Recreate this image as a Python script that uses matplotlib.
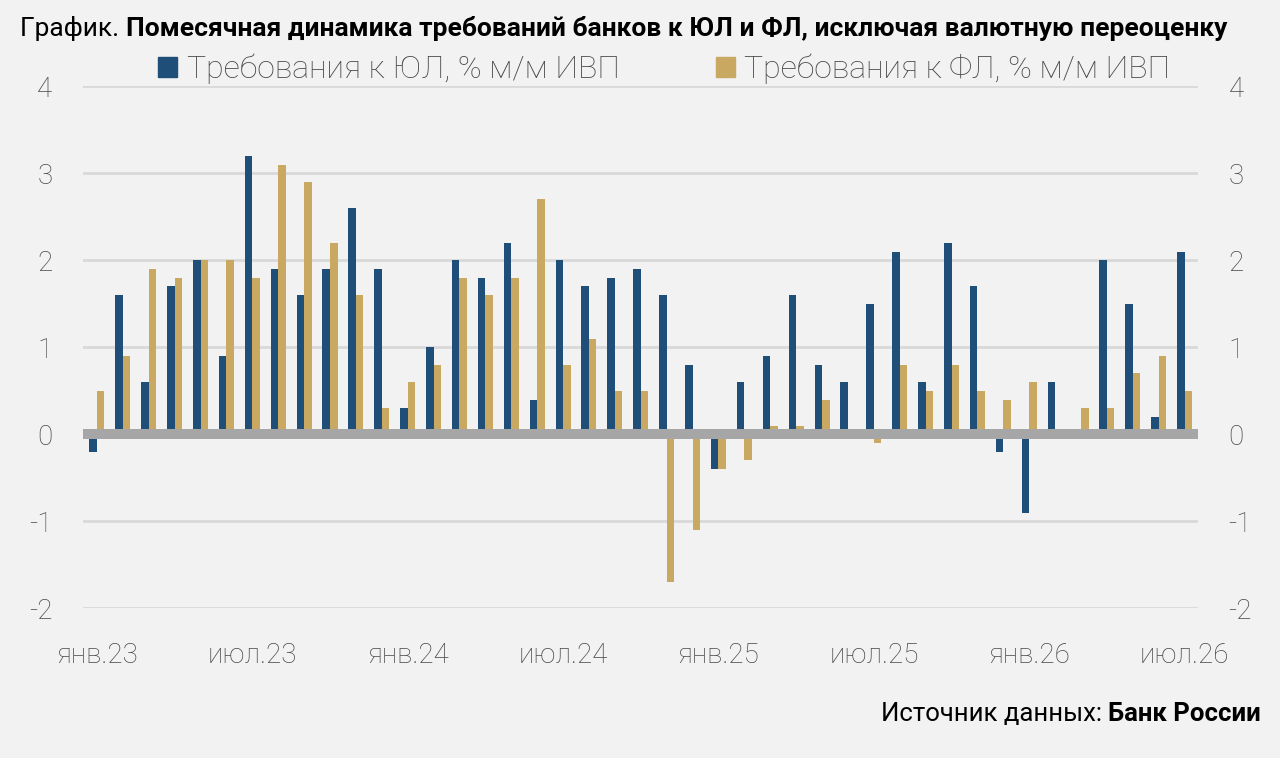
import numpy as np
import matplotlib.pyplot as plt
from matplotlib.patches import Patch

plt.rcParams['font.family'] = ['Roboto', 'DejaVu Sans']

# помесячные данные, янв.23 - июл.26
yul = [-0.2, 1.6, 0.6, 1.7, 2.0, 0.9, 3.2, 1.9, 1.6, 1.9, 2.6, 1.9,
       0.3, 1.0, 2.0, 1.8, 2.2, 0.4, 2.0, 1.7, 1.8, 1.9, 1.6, 0.8,
       -0.4, 0.6, 0.9, 1.6, 0.8, 0.6, 1.5, 2.1, 0.6, 2.2, 1.7, -0.2,
       -0.9, 0.6, 0.0, 2.0, 1.5, 0.2, 2.1]
fl = [0.5, 0.9, 1.9, 1.8, 2.0, 2.0, 1.8, 3.1, 2.9, 2.2, 1.6, 0.3,
      0.6, 0.8, 1.8, 1.6, 1.8, 2.7, 0.8, 1.1, 0.5, 0.5, -1.7, -1.1,
      -0.4, -0.3, 0.1, 0.1, 0.4, 0.0, -0.1, 0.8, 0.5, 0.8, 0.5, 0.4,
      0.6, 0.0, 0.3, 0.3, 0.7, 0.9, 0.5]
tick_labels = ["янв.23", "июл.23", "янв.24", "июл.24",
               "янв.25", "июл.25", "янв.26", "июл.26"]
yticks = [-2, -1, 0, 1, 2, 3, 4]

blue = "#1f4e79"
gold = "#c9a962"
bg = "#f2f2f2"
txt = "#474747"

fig = plt.figure(figsize=(12.8, 7.58), dpi=100, facecolor=bg)
ax = fig.add_axes([0.0648, 0.1975, 0.8712, 0.6886], facecolor=bg)

x = np.arange(len(yul))
w = 0.29
ax.bar(x - w / 2, yul, width=w, color=blue, zorder=2)
ax.bar(x + w / 2, fl, width=w, color=gold, zorder=2)

ax.set_xlim(-0.54, len(yul) - 1 + 0.52)
ax.set_ylim(-2, 4)
for v in yticks:
    if v != 0:
        ax.axhline(v, color="#d9d9d9", lw=2, zorder=1)
ax.axhline(0, color="#a6a6a6", lw=7.2, zorder=3)

ax.set_yticks(yticks)
ax.set_yticklabels([str(v) for v in yticks])
ax.set_xticks(x[::6])
ax.set_xticklabels(tick_labels)
ax.tick_params(axis="y", length=0, pad=22, labelsize=20, labelcolor=txt,
               labelright=True)
ax.tick_params(axis="x", length=0, pad=24, labelsize=20, labelcolor=txt)
for lab in ax.get_xticklabels() + ax.get_yticklabels():
    lab.set_fontweight("light")
for t in ax.yaxis.get_major_ticks():
    t.label2.set_fontweight("light")

handles = [Patch(color=blue), Patch(color=gold)]
leg = fig.legend(handles, ["Требования к ЮЛ, % м/м ИВП", "Требования к ФЛ, % м/м ИВП"],
                 loc="center", bbox_to_anchor=(0.519, 0.909), ncol=2, frameon=False,
                 fontsize=23, labelcolor=txt, handlelength=0.6, handleheight=0.6,
                 handletextpad=0.3, columnspacing=3.0)
for t in leg.get_texts():
    t.set_fontweight("light")

# заголовок: обычная часть + жирная
t1 = fig.text(0.016, 0.962, "График. ", fontsize=19, color="black", va="center")
ax.annotate("Помесячная динамика требований банков к ЮЛ и ФЛ, исключая валютную переоценку",
            xy=(1, 0), xycoords=t1, va="bottom", ha="left",
            fontsize=19, fontweight="bold", color="black")

# источник
s2 = fig.text(0.985, 0.058, "Банк России", fontsize=18.5, fontweight="bold",
              color="black", ha="right", va="center")
ax.annotate("Источник данных: ", xy=(0, 0), xycoords=s2, va="bottom", ha="right",
            fontsize=18.5, color="black")

for s in ax.spines.values():
    s.set_visible(False)

fig.savefig("out.png", dpi=100, facecolor=bg)
